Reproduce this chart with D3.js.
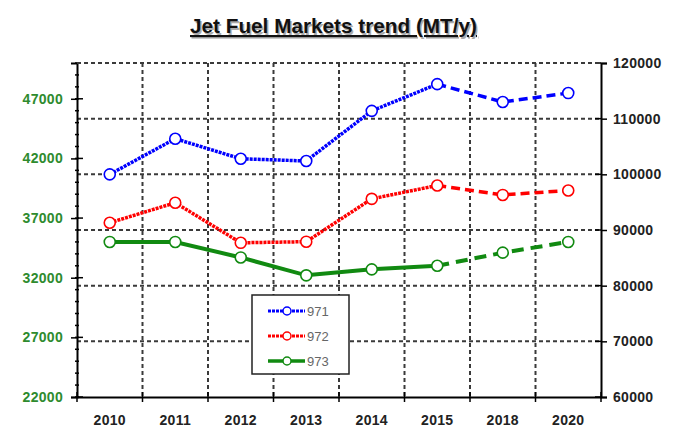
<!DOCTYPE html>
<html>
<head>
<meta charset="utf-8">
<script src="https://cdn.jsdelivr.net/npm/d3@7"></script>
<style>
  body { margin: 0; background: #fff; }
  svg { font-family: "Liberation Sans", Arial, sans-serif; }
</style>
</head>
<body>
<div id="chart-area"></div>
<script>
// chart data
var years = ["2010", "2011", "2012", "2013", "2014", "2015", "2018", "2020"];
var s971 = [100000, 106400, 102800, 102400, 111400, 116200, 113000, 114600]; // right axis
var s972 = [91300, 94900, 87700, 87900, 95600, 98000, 96300, 97100];        // right axis
var s973 = [35000, 35000, 33700, 32200, 32700, 33000, 34100, 35000];        // left axis
var leftTicks = [22000, 27000, 32000, 37000, 42000, 47000];
var rightTicks = [60000, 70000, 80000, 90000, 100000, 110000, 120000];
var forecastFrom = "2015";

var margin = {top: 63, right: 73, bottom: 31, left: 77};
var W = 674, H = 428;
var width = W - margin.left - margin.right,
    height = H - margin.top - margin.bottom;

var svg = d3.select("#chart-area").append("svg")
    .attr("width", W)
    .attr("height", H);

// title (with soft shadow)
[["#aaa", 1.5], ["#111", 0]].forEach(function(t) {
    svg.append("text")
        .attr("x", 190).attr("y", 33)
        .attr("textLength", 287).attr("lengthAdjust", "spacingAndGlyphs")
        .attr("transform", "translate(" + t[1] + "," + t[1] + ")")
        .style("font-size", "21px").style("font-weight", "bold")
        .style("fill", t[0]).style("text-decoration", "underline")
        .text("Jet Fuel Markets trend (MT/y)");
});

var g = svg.append("g")
    .attr("transform", "translate(" + margin.left + "," + margin.top + ")");

var x = d3.scaleBand().domain(years).range([0, width]);
var yL = d3.scaleLinear().domain([22000, 50000]).range([height, 0]);
var yR = d3.scaleLinear().domain([60000, 120000]).range([height, 0]);

// grid
var grid = g.append("g").style("stroke", "#3a3a3a").style("stroke-width", 2)
    .style("stroke-dasharray", "4,3");
grid.selectAll(".hg").data(rightTicks.filter(function(d) { return d > 60000; }))
    .enter().append("line")
    .attr("x1", 0).attr("x2", width)
    .attr("y1", function(d) { return yR(d); }).attr("y2", function(d) { return yR(d); });
grid.selectAll(".vg").data(years.slice(1))
    .enter().append("line")
    .attr("x1", function(d) { return x(d); }).attr("x2", function(d) { return x(d); })
    .attr("y1", 0).attr("y2", height);

// axes
var axL = g.append("g").call(d3.axisLeft(yL).tickValues(leftTicks).tickSize(6).tickFormat(d3.format("d")));
// minor ticks on left axis
g.append("g").selectAll("line").data(d3.range(22000, 50001, 1000))
    .enter().append("line")
    .attr("x1", -2).attr("x2", 2)
    .attr("y1", function(d) { return yL(d); }).attr("y2", function(d) { return yL(d); })
    .style("stroke", "#000").style("stroke-width", 1.5);
g.append("g").selectAll("line").data(leftTicks)
    .enter().append("line")
    .attr("x1", 0).attr("x2", 6)
    .attr("y1", function(d) { return yL(d); }).attr("y2", function(d) { return yL(d); })
    .style("stroke", "#000").style("stroke-width", 1.5);
axL.selectAll("text").style("fill", "#2e8b2e").attr("x", -14);

var axR = g.append("g").attr("transform", "translate(" + width + ",0)")
    .call(d3.axisRight(yR).tickValues(rightTicks).tickSize(6).tickFormat(d3.format("d")));
g.append("g").selectAll("line").data(rightTicks)
    .enter().append("line")
    .attr("x1", -6).attr("x2", 0)
    .attr("transform", "translate(" + width + ",0)")
    .attr("y1", function(d) { return yR(d); }).attr("y2", function(d) { return yR(d); })
    .style("stroke", "#000").style("stroke-width", 1.5);
axR.selectAll("text").style("fill", "#222").attr("x", 12);

var axB = g.append("g").attr("transform", "translate(0," + height + ")")
    .call(d3.axisBottom(x).tickSize(0).tickPadding(18));
g.append("g").attr("transform", "translate(0," + height + ")")
    .selectAll("line").data(years.slice(1).concat(["_end"]))
    .enter().append("line")
    .attr("x1", function(d) { return d === "_end" ? width : x(d); })
    .attr("x2", function(d) { return d === "_end" ? width : x(d); })
    .attr("y1", -5).attr("y2", 5)
    .style("stroke", "#000").style("stroke-width", 1.5);
g.append("line").attr("x1", 0).attr("x2", 0).attr("y1", height - 5).attr("y2", height + 5)
    .style("stroke", "#000").style("stroke-width", 1.5);

[axL, axR, axB].forEach(function(a) {
    a.select(".domain").style("stroke", "#000").style("stroke-width", 2);
    a.selectAll(".tick line").style("stroke", "#000").style("stroke-width", 1.5);
    a.selectAll("text").style("font-size", "14px").style("font-weight", "bold")
        .style("letter-spacing", "0.3px")
        .style("font-family", "'Liberation Sans', Arial, sans-serif");
});
axB.selectAll("text").style("fill", "#222");
// top border dashed
g.append("line").attr("x1", 0).attr("x2", width).attr("y1", 0).attr("y2", 0)
    .style("stroke", "#3a3a3a").style("stroke-width", 2).style("stroke-dasharray", "4,3");

// series
var series = [
    {name: "971", values: s971, y: yR, color: "#0000ff", dash: "3,1", width: 3.5, fdash: "9,5"},
    {name: "972", values: s972, y: yR, color: "#ff0000", dash: "3,1", width: 3.5, fdash: "9,5"},
    {name: "973", values: s973, y: yL, color: "#118a11", dash: null, width: 4, fdash: "12,7"}
];
var split = years.indexOf(forecastFrom);

series.forEach(function(s) {
    var pts = years.map(function(yr, i) { return [x(yr) + x.bandwidth() / 2, s.y(s.values[i])]; });
    var line = d3.line();
    g.append("path").attr("d", line(pts.slice(0, split + 1)))
        .style("fill", "none").style("stroke", s.color).style("stroke-width", s.width)
        .style("stroke-dasharray", s.dash);
    g.append("path").attr("d", line(pts.slice(split)))
        .style("fill", "none").style("stroke", s.color).style("stroke-width", s.width)
        .style("stroke-dasharray", s.fdash);
    g.selectAll(null).data(pts).enter().append("circle")
        .attr("cx", function(d) { return d[0]; }).attr("cy", function(d) { return d[1]; })
        .attr("r", 5.5)
        .style("fill", "#fff").style("stroke", s.color).style("stroke-width", 1.6);
});

// legend
var leg = svg.append("g").attr("transform", "translate(252,295)");
leg.append("rect").attr("width", 97).attr("height", 79)
    .style("fill", "#fff").style("stroke", "#222").style("stroke-width", 1.5);
series.forEach(function(s, i) {
    var ly = 16 + i * 25;
    leg.append("line").attr("x1", 16).attr("x2", 53).attr("y1", ly).attr("y2", ly)
        .style("stroke", s.color).style("stroke-width", s.width - 0.5)
        .style("stroke-dasharray", s.dash);
    leg.append("circle").attr("cx", 35).attr("cy", ly).attr("r", 4)
        .style("fill", "#fff").style("stroke", s.color).style("stroke-width", 1.5);
    leg.append("text").attr("x", 55).attr("y", ly + 5)
        .style("font-size", "13px").style("fill", "#666")
        .text(s.name);
});
</script>
</body>
</html>
